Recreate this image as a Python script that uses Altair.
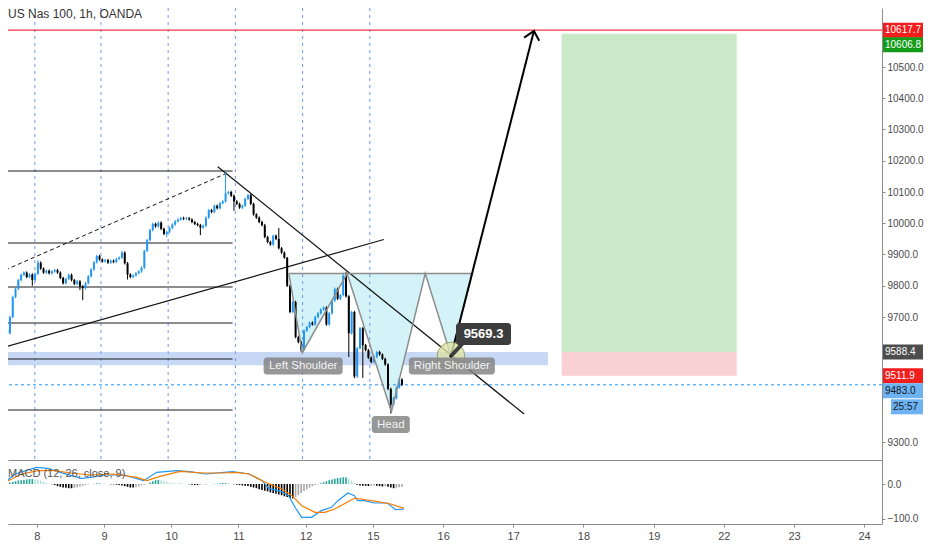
import altair as alt
import pandas as pd

# ---------------- data ----------------
first_open = 9660
closes = [9648, 9700, 9764, 9790, 9818, 9835, 9842, 9828, 9836, 9818,
          9838, 9874, 9855, 9842, 9848, 9840, 9846, 9850, 9842, 9825,
          9808, 9822, 9835, 9818, 9806, 9814, 9798, 9792, 9808, 9830,
          9852, 9875, 9895, 9884, 9878, 9882, 9874, 9880, 9876, 9886,
          9890, 9906, 9872, 9836, 9828, 9833, 9840, 9846, 9858, 9912,
          9946, 9978, 9998, 9990, 10002, 9982, 9966, 9972, 9985, 9996,
          10006, 10012, 10017, 10014, 10016, 10012, 10004, 9998, 9994, 9986,
          9992, 10018, 10042, 10036, 10056, 10048, 10064, 10070, 10096, 10100,
          10088, 10070, 10062, 10050, 10056, 10078, 10090, 10062, 10028, 10018,
          10004, 9994, 9956, 9940, 9932, 9960, 9950, 9920, 9906, 9890,
          9800, 9716, 9748, 9636, 9620, 9596, 9656, 9668, 9682, 9676,
          9700, 9712, 9724, 9730, 9676, 9712, 9752, 9790, 9758, 9770,
          9832, 9766, 9648, 9716, 9510, 9600, 9664, 9610, 9594, 9570,
          9556, 9572, 9588, 9580, 9566, 9548, 9470, 9420, 9440, 9474,
          9500, 9483]
wick_highs = {11: 9882, 41: 9912, 49: 9915, 78: 10163, 97: 9985, 100: 9892,
              120: 9842, 121: 9845}
wick_lows = {0: 9604, 9: 9800, 26: 9786, 27: 9754, 43: 9820, 57: 9955, 69: 9962,
             81: 10040, 105: 9588, 122: 9572, 124: 9504, 125: 9505, 127: 9505,
             137: 9392}
wick_pad = 4

hist = [2, 4,
        6, 8, 10, 11, 12, 13, 14, 14, 13, 12,
        10, 7, 4, 1, -1,
        -3, -6, -8, -10, -11, -12, -12, -11, -9, -7, -5, -3,
        -1, 0, 1, 2, 2, 1, 1, 0,
        -1, -1, -2, -3, -4, -6,
        -8, -10, -10, -9, -7, -4, -2, 0,
        4, 8, 11, 12, 10,
        8, 6, 4, 3, 2, 1, 1,
        0, 0, -1,
        -2, -3, -3, -2, -1, -1, 0,
        0, 1, 1, 2, 3, 3, 2, 1,
        -1, -2, -3, -4, -5, -6, -8, -10, -12, -15, -17, -19,
        -21, -24, -26, -28, -30, -32, -35, -37, -40, -41,
        -37, -32, -26, -20, -15, -10, -6, -3, -1,
        2, 5, 8, 11, 13, 15, 17, 18, 19, 19, 16, 10, 3,
        -2, -4, -5, -5, -6, -5, -4, -5, -6, -7, -6, -8, -10, -12, -11, -9, -8]

macd_t = [-0.7, 2.8, 10.5, 14.6, 18.1, 26.4, 29.9, 34.6, 41.7, 48.7, 53.4, 60.5,
          65.2, 71.1, 74.6, 80.5, 86.4, 91.1, 93.4, 98.1, 100.5, 102.8, 105.2,
          108.7, 112.2, 115.8, 118.1, 121.7, 124.0, 125.2, 127.5, 131.1, 135.8,
          138.7, 141.7]
macd_v = [4.8, 28.6, 47.6, 44.7, 35.2, 16.2, 19.0, 25.7, 25.7, 9.5, 33.3, 38.1,
          35.2, 28.6, 31.4, 35.2, 28.6, 9.5, -12.4, -21.9, -33.3, -66.6, -95.2,
          -95.2, -76.2, -66.6, -47.6, -25.7, -33.3, -47.6, -47.6, -54.3, -54.3,
          -73.3, -71.4]
sig_t = [-0.7, 5.2, 11.1, 16.9, 22.8, 29.9, 38.1, 46.3, 49.9, 54.6, 61.7, 69.9,
         77.0, 81.7, 86.4, 92.2, 98.1, 101.7, 105.2, 109.9, 113.4, 117.0, 121.7,
         124.0, 126.4, 132.3, 137.0, 141.7]
sig_v = [4.8, 28.6, 38.1, 38.1, 31.4, 25.7, 28.6, 19.0, 9.5, 21.9, 36.2, 31.4,
         31.4, 33.3, 28.6, 4.8, -14.3, -33.3, -61.9, -80.9, -80.9, -71.4, -50.5,
         -40.9, -42.8, -50.5, -57.1, -69.5]

sep_t = [9.9, 33.5, 57.5, 81.5, 105.5, 129.5]
tick_t = [10.6, 34.6, 58.6, 82.6, 106.6, 130.6, 155.7, 180.7, 205.8, 230.9, 255.9, 281.0, 306.0]
tick_lbl = ["8", "9", "10", "11", "12", "15", "16", "17", "18", "19", "22", "23", "24"]
price_ticks = [9300, 9700, 9800, 9900, 10000, 10100, 10200, 10300, 10400, 10500, 10700]

levels = [10167.2, 9936.8, 9796.0, 9680.8, 9565.6, 9402.4]
level_t0, level_t1 = -1.0, 80.5

trend_seg = ["up", "up", "down", "down"]
trend_t = [-0.7, 134.5, 75.2, 184.6]
trend_p = [9604.0, 9948.0, 10181.0, 9389.6]
dash_t = [-0.7, 79.4]
dash_p = [9850.4, 10164.0]

target_line = 10617.7
last_price = 9483.0
tp_top, entry, stop = 10606.8, 9588.4, 9511.9
box_t0, box_t1 = 198.0, 260.5
band_lo, band_hi, band_t1 = 9546.0, 9588.4, 193.1

hs_top = 9839.0
hs_t = [100.6, 105.4, 121.4, 137.2, 149.3, 158.5, 166.1]
hs_p = [hs_top, 9585.8, hs_top, 9397.0, hs_top, 9575.2, hs_top]

arrow_t = [158.5, 188.1]
arrow_p = [9575.2, 10615.2]
head_t = [184.6, 188.1, 190.0]
head_p = [10593.8, 10615.2, 10584.2]

callout_t, callout_p, callout_txt = 170.1, 9645.6, "9569.3"
pointer_t = [158.5, 163.8]
pointer_p = [9575.2, 9626.4]

notes = [("Left Shoulder", 105.7, 9543.2, 79), ("Right Shoulder", 158.8, 9543.2, 86),
         ("Head", 137.0, 9356.0, 38)]

# axis price tags: value, text, background, text colour, x0, x1, y shift
tags = [(10617.7, "10617.7", "#f21d1d", "white", 875, 915, 0),
        (10606.8, "10606.8", "#149b1a", "white", 875, 915, 11),
        (9588.4, "9588.4", "#4d4d4d", "white", 875, 915, 0),
        (9511.9, "9511.9", "#f21d1d", "white", 875, 915, 0),
        (9483.0, "9483.0", "#6db3f2", "#131722", 875, 915, 6),
        (9483.0, "25:57", "#6db3f2", "#131722", 883, 915, 22)]

# ---------------- layout / style ----------------
W, H_MAIN, H_MACD = 874, 452, 64
FONT = "Liberation Sans"
AX_COL = "#8c8c8c"
LBL_COL = "#4a4a4a"

xs = alt.Scale(domain=[2.1, 310.6], nice=False, zero=False)
ys = alt.Scale(domain=[9242.4, 10688.8], nice=False, zero=False)
ms = alt.Scale(domain=[-114.3, 68.6], nice=False, zero=False)

x_axis_main = alt.Axis(title=None, labels=False, ticks=False, grid=False,
                       domainColor=AX_COL, orient="bottom")
y_axis_main = alt.Axis(title=None, orient="right", values=price_ticks, format=".1f",
                       grid=False, labelFont=FONT, labelFontSize=10, labelColor=LBL_COL,
                       tickColor=AX_COL, tickSize=3, domainColor=AX_COL, labelPadding=2)
lbl_expr = "[" + ",".join("'%s'" % s for s in tick_lbl) + "][indexof([" + \
    ",".join(str(v) for v in tick_t) + "], datum.value)]"
x_axis_macd = alt.Axis(title=None, values=tick_t, labelExpr=lbl_expr, grid=False,
                       domainColor=AX_COL, tickColor=AX_COL, tickSize=3,
                       labelFont=FONT, labelFontSize=11, labelColor=LBL_COL, labelPadding=3)
y_axis_macd = alt.Axis(title=None, orient="right", values=[0, -100], format=".1f",
                       grid=False, labelFont=FONT, labelFontSize=10, labelColor=LBL_COL,
                       tickColor=AX_COL, tickSize=3, domainColor=AX_COL, labelPadding=2)


def X(f):
    return alt.X(f, type="quantitative", scale=xs, axis=x_axis_main)


def Y(f):
    return alt.Y(f, type="quantitative", scale=ys, axis=y_axis_main)


def Xm(f):
    return alt.X(f, type="quantitative", scale=xs, axis=x_axis_macd)


def Ym(f):
    return alt.Y(f, type="quantitative", scale=ms, axis=y_axis_macd)


# ---------------- tables ----------------
opens = [first_open] + closes[:-1]
rows = []
for i, (o, c) in enumerate(zip(opens, closes)):
    hi = wick_highs.get(i, max(o, c) + wick_pad)
    lo = wick_lows.get(i, min(o, c) - wick_pad)
    rows.append({"t": i, "o": o, "c": c, "h": hi, "l": lo,
                 "col": "#2196f3" if c >= o else "#000000"})
candles = pd.DataFrame(rows)

hrows = []
prev = 0
for i, h in enumerate(hist):
    if h >= 0:
        col = "#26a69a" if h >= prev else "#b2dfdb"
    else:
        col = "#000000" if h <= prev else "#a6a6a6"
    hrows.append({"t": i, "h": h, "col": col})
    prev = h
hist_df = pd.DataFrame(hrows)

# ---------------- main panel ----------------
boxes = pd.DataFrame({"t0": [box_t0, box_t0], "t1": [box_t1, box_t1],
                      "p0": [entry, stop], "p1": [tp_top, entry],
                      "col": ["#c9e9c9", "#f9d0d3"]})
l_boxes = alt.Chart(boxes).mark_rect(clip=True).encode(
    x=X("t0"), x2="t1", y=Y("p0"), y2="p1", color=alt.Color("col:N", scale=None))

l_band = alt.Chart(pd.DataFrame({"t0": [-1.0], "t1": [band_t1], "p0": [band_lo], "p1": [band_hi]})
                   ).mark_rect(clip=True, color="#c7d8f5").encode(
    x=X("t0"), x2="t1", y=Y("p0"), y2="p1")

hs_df = pd.DataFrame({"t": hs_t, "p": hs_p})
l_area = alt.Chart(hs_df).mark_area(clip=True, color="#d3f3f8").encode(
    x=X("t"), y=Y("p"), y2=alt.datum(hs_top))

l_sep = alt.Chart(pd.DataFrame({"t": sep_t})).mark_rule(
    clip=True, color="#7496e6", strokeDash=[3, 4], strokeWidth=1).encode(x=X("t"))

l_levels = alt.Chart(pd.DataFrame({"p": levels, "t0": level_t0, "t1": level_t1})).mark_rule(
    clip=True, color="#1a1a1a", strokeWidth=1).encode(x=X("t0"), x2="t1", y=Y("p"))

l_trend = alt.Chart(pd.DataFrame({"s": trend_seg, "t": trend_t, "p": trend_p})).mark_line(
    clip=True, color="#111111", strokeWidth=1.2).encode(x=X("t"), y=Y("p"), detail="s:N")
l_dash = alt.Chart(pd.DataFrame({"t": dash_t, "p": dash_p})).mark_line(
    clip=True, color="#111111", strokeWidth=1, strokeDash=[4, 3]).encode(x=X("t"), y=Y("p"))

l_red = alt.Chart(pd.DataFrame({"p": [target_line]})).mark_rule(
    clip=True, color="#f23645", strokeWidth=1.2).encode(y=Y("p"))
l_last = alt.Chart(pd.DataFrame({"p": [last_price]})).mark_rule(
    clip=True, color="#2196f3", strokeWidth=1, strokeDash=[3, 3]).encode(y=Y("p"))

l_wick = alt.Chart(candles).mark_rule(clip=True, strokeWidth=1).encode(
    x=X("t"), y=Y("l"), y2="h", color=alt.Color("col:N", scale=None))
l_body = alt.Chart(candles).mark_bar(clip=True, width=2).encode(
    x=X("t"), y=Y("o"), y2="c", color=alt.Color("col:N", scale=None))

l_zig = alt.Chart(hs_df).mark_line(clip=True, color="#8d8d8d", strokeWidth=1.5).encode(
    x=X("t"), y=Y("p"))
l_top = alt.Chart(pd.DataFrame({"t0": [hs_t[0]], "t1": [hs_t[-1]], "p": [hs_top]})).mark_rule(
    clip=True, color="#8d8d8d", strokeWidth=1.5).encode(x=X("t0"), x2="t1", y=Y("p"))

l_arrow = alt.Chart(pd.DataFrame({"t": arrow_t, "p": arrow_p})).mark_line(
    clip=True, color="#000000", strokeWidth=2).encode(x=X("t"), y=Y("p"))
l_head = alt.Chart(pd.DataFrame({"t": head_t, "p": head_p})).mark_line(
    clip=True, color="#000000", strokeWidth=2).encode(x=X("t"), y=Y("p"))

circ_df = pd.DataFrame({"t": [hs_t[5]], "p": [hs_p[5]]})
l_circle = alt.Chart(circ_df).mark_point(
    clip=True, shape="circle", filled=True, size=760, color="#dde2a6", opacity=0.8,
    stroke="#8c9150", strokeWidth=1).encode(x=X("t"), y=Y("p"))
l_dot = alt.Chart(circ_df).mark_point(
    clip=True, shape="circle", filled=True, size=12, color="#000000", opacity=1).encode(
    x=X("t"), y=Y("p"))
l_pointer = alt.Chart(pd.DataFrame({"t": pointer_t, "p": pointer_p})).mark_line(
    clip=True, color="#3d3d3d", strokeWidth=4).encode(x=X("t"), y=Y("p"))
call_df = pd.DataFrame({"t": [callout_t], "p": [callout_p], "txt": [callout_txt]})
l_call_box = alt.Chart(call_df).mark_rect(
    clip=True, width=55, height=22, cornerRadius=3, color="#3d3d3d").encode(
    x=X("t"), y=Y("p"))
l_call_txt = alt.Chart(call_df).mark_text(
    font=FONT, fontSize=13, fontWeight="bold", color="white", baseline="middle",
    align="center").encode(x=X("t"), y=Y("p"), text="txt:N")

note_layers = []
for txt, t, p, w in notes:
    d = pd.DataFrame({"t": [t], "p": [p], "txt": [txt]})
    note_layers.append(alt.Chart(d).mark_rect(
        clip=True, width=w, height=17, cornerRadius=3, color="#858585", opacity=0.85).encode(
        x=X("t"), y=Y("p")))
    note_layers.append(alt.Chart(d).mark_text(
        font=FONT, fontSize=11.5, color="#f2f2f2", baseline="middle", align="center").encode(
        x=X("t"), y=Y("p"), text="txt:N"))

l_title = alt.Chart(pd.DataFrame({"txt": ["US Nas 100, 1h, OANDA"]})).mark_text(
    font=FONT, fontSize=12, color="#333333", align="left", baseline="middle").encode(
    x=alt.value(0), y=alt.value(6), text="txt:N")

tag_layers = []
for val, txt, bg, fg, x0, x1, sh in tags:
    d = pd.DataFrame({"p": [val], "txt": [txt]})
    tag_layers.append(alt.Chart(d).mark_rect(height=15, yOffset=sh, color=bg).encode(
        x=alt.value(x0), x2=alt.value(x1), y=Y("p")))
    tag_layers.append(alt.Chart(d).mark_text(
        yOffset=sh, font=FONT, fontSize=10, color=fg, align="left", baseline="middle").encode(
        x=alt.value(x0 + 2), y=Y("p"), text="txt:N"))

main = alt.layer(
    l_boxes, l_band, l_area, l_sep, l_levels, l_trend, l_dash, l_red, l_last,
    l_wick, l_body, l_zig, l_top, l_arrow, l_head, l_circle, l_dot, l_pointer,
    l_call_box, l_call_txt, *note_layers, l_title, *tag_layers
).properties(width=W, height=H_MAIN)

# ---------------- MACD panel ----------------
m_hist = alt.Chart(hist_df).mark_bar(clip=True, width=1.6).encode(
    x=Xm("t"), y=Ym("h"), y2=alt.datum(0), color=alt.Color("col:N", scale=None))
m_macd = alt.Chart(pd.DataFrame({"t": macd_t, "v": macd_v})).mark_line(
    clip=True, color="#2196f3", strokeWidth=1.2).encode(x=Xm("t"), y=Ym("v"))
m_sig = alt.Chart(pd.DataFrame({"t": sig_t, "v": sig_v})).mark_line(
    clip=True, color="#f57c00", strokeWidth=1.2).encode(x=Xm("t"), y=Ym("v"))
m_title = alt.Chart(pd.DataFrame({"txt": ["MACD (12, 26, close, 9)"]})).mark_text(
    font=FONT, fontSize=11, color="#555555", align="left", baseline="middle").encode(
    x=alt.value(0), y=alt.value(14), text="txt:N")

macd = alt.layer(m_hist, m_macd, m_sig, m_title).properties(width=W, height=H_MACD)

chart = alt.vconcat(main, macd, spacing=0).resolve_scale(
    y="independent").properties(padding=0).configure_view(strokeWidth=0)

chart.save("out.html", embed_options={"renderer": "svg", "actions": False})
